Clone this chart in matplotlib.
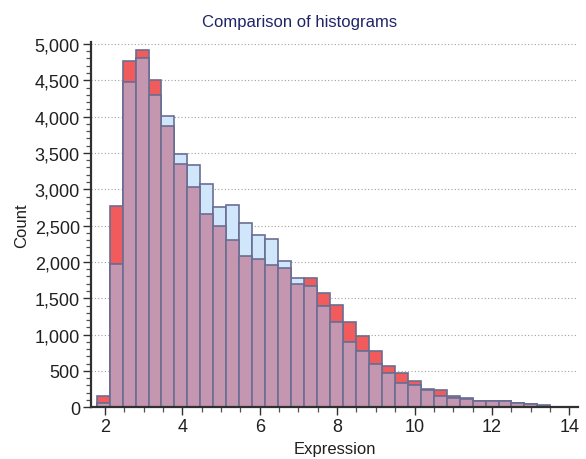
import numpy as np
import matplotlib
matplotlib.use("Agg")
import matplotlib.pyplot as plt
from matplotlib.ticker import MultipleLocator, StrMethodFormatter

plt.rcParams['font.family'] = ['Liberation Sans', 'DejaVu Sans']

# Data
bin_start = 1.786
bin_width = 0.335
red_counts = [150, 2770, 4760, 4920, 4510, 3870, 3350, 3030, 2660, 2490,
              2300, 2080, 2040, 1960, 1915, 1700, 1780, 1570, 1410, 1180,
              985, 770, 575, 470, 365, 255, 238, 150, 125, 87,
              87, 92, 65, 45, 20]
blue_counts = [55, 1970, 4470, 4810, 4300, 4015, 3480, 3330, 3070, 2760,
               2790, 2535, 2365, 2320, 2010, 1775, 1675, 1390, 1180, 895,
               780, 595, 470, 335, 310, 235, 160, 130, 115, 85,
               85, 80, 62, 45, 25]
title = "Comparison of histograms"
xlabel = "Expression"
ylabel = "Count"

red = np.array(red_counts)
blue = np.array(blue_counts)
edges = bin_start + bin_width * np.arange(len(red))
overlap = np.minimum(red, blue)

fig = plt.figure(figsize=(5.86, 4.6), dpi=100)
ax = fig.add_axes([0.1553, 0.1124, 0.8307, 0.7946])

edge_col = '#6A6E92'
kw = dict(width=bin_width, align='edge', edgecolor=edge_col, linewidth=1.2, zorder=2)
ax.bar(edges, red, color='#F25B5B', **kw)
ax.bar(edges, blue, color='#D0E6FA', **kw)
ax.bar(edges, overlap, color='#C596B0', **kw)

ax.set_xlim(1.64, 14.22)
ax.set_ylim(0, 5030)

ax.yaxis.set_major_locator(MultipleLocator(500))
ax.yaxis.set_minor_locator(MultipleLocator(100))
ax.xaxis.set_major_locator(MultipleLocator(2))
ax.xaxis.set_minor_locator(MultipleLocator(0.5))
ax.yaxis.set_major_formatter(StrMethodFormatter('{x:,.0f}'))

ax.grid(axis='y', which='major', linestyle=(0, (1, 2)), color='#A0A0A0', linewidth=0.8, zorder=0)
ax.set_axisbelow(True)

for s in ['top', 'right']:
    ax.spines[s].set_visible(False)
for s in ['left', 'bottom']:
    ax.spines[s].set_color('#303030')
    ax.spines[s].set_linewidth(1.6)

ax.tick_params(axis='both', which='major', length=6, width=1.0, color='#303030',
               labelsize=13, labelcolor='#202020', pad=2)
ax.tick_params(axis='both', which='minor', length=3.5, width=0.9, color='#505050')

fig.text(0.512, 1 - 23 / 460, title, fontsize=12, color='#1F2468',
         ha='center', va='center')
ax.set_xlabel(xlabel, fontsize=12, color='#202020', labelpad=4)
ax.set_ylabel(ylabel, fontsize=12, color='#202020', labelpad=4)

fig.savefig("out.png", dpi=100)
